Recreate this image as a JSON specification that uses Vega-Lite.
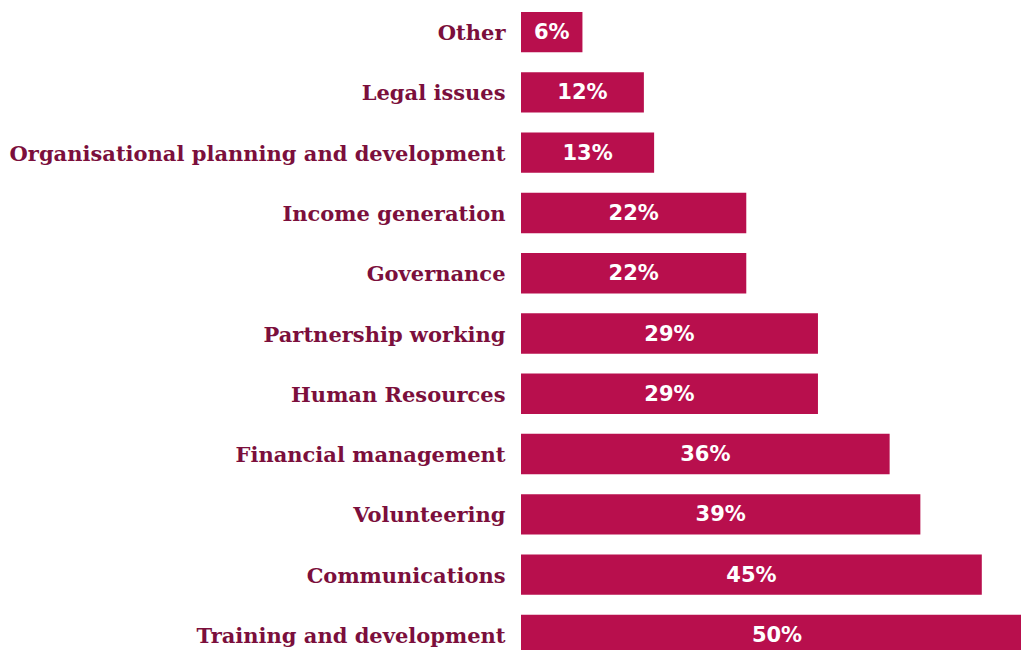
{
  "$schema": "https://vega.github.io/schema/vega-lite/v6.json",
  "autosize": {"type": "none"},
  "padding": {"left": 521, "top": 2, "right": 0, "bottom": 0},
  "width": 512,
  "height": 663,
  "background": "white",
  "data": {"values": [
    {"category": "Other", "value": 6},
    {"category": "Legal issues", "value": 12},
    {"category": "Organisational planning and development", "value": 13},
    {"category": "Income generation", "value": 22},
    {"category": "Governance", "value": 22},
    {"category": "Partnership working", "value": 29},
    {"category": "Human Resources", "value": 29},
    {"category": "Financial management", "value": 36},
    {"category": "Volunteering", "value": 39},
    {"category": "Communications", "value": 45},
    {"category": "Training and development", "value": 50}
  ]},
  "transform": [
    {"calculate": "datum.value / 2", "as": "mid"},
    {"calculate": "datum.value + '%'", "as": "label"}
  ],
  "encoding": {
    "y": {"field": "category", "type": "nominal", "sort": null,
      "scale": {"paddingInner": 0.33, "paddingOuter": 0.165},
      "axis": {"title": null, "domain": false, "ticks": false, "labelPadding": 16,
        "labelFont": "DejaVu Serif", "labelFontWeight": "bold", "labelFontSize": 21,
        "labelColor": "#7b0f3c", "labelLimit": 600, "labelOffset": 2}}
  },
  "layer": [
    {"mark": {"type": "bar", "color": "#b80f4d", "clip": false},
     "encoding": {"x": {"field": "value", "type": "quantitative", "scale": {"domain": [0, 50]}, "axis": null}}},
    {"mark": {"type": "text", "color": "white", "font": "DejaVu Sans", "fontWeight": "bold", "fontSize": 21, "align": "center", "baseline": "middle", "dy": 1},
     "encoding": {"x": {"field": "mid", "type": "quantitative"},
       "text": {"field": "label", "type": "nominal"}}}
  ],
  "config": {"view": {"stroke": null}}
}
